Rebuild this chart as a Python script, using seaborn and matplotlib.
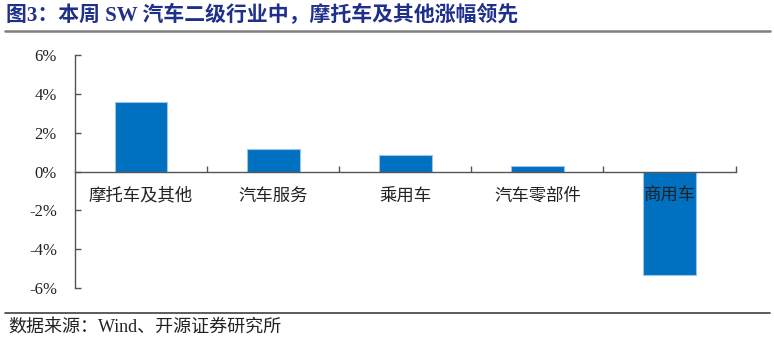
import matplotlib
matplotlib.use("Agg")
import matplotlib.pyplot as plt
from matplotlib.lines import Line2D
import seaborn as sns
import pandas as pd

categories = ["摩托车及其他", "汽车服务", "乘用车", "汽车零部件", "商用车"]
values = [3.58, 1.15, 0.83, 0.29, -5.33]
yticks = [-6, -4, -2, 0, 2, 4, 6]
ytick_labels = ["-6%", "-4%", "-2%", "0%", "2%", "4%", "6%"]
title = "图3：本周 SW 汽车二级行业中，摩托车及其他涨幅领先"
source = "数据来源：Wind、开源证券研究所"

sns.set_style("white")
plt.rcParams["font.family"] = ["Liberation Serif", "Noto Sans CJK SC", "DejaVu Sans"]

W, H = 774, 343
fig = plt.figure(figsize=(W / 100, H / 100), dpi=100)
ax = fig.add_axes([75 / W, 1 - 288 / H, (735.6 - 75) / W, (288 - 55) / H])

df = pd.DataFrame({"cat": categories, "val": values})
sns.barplot(data=df, x="cat", y="val", color="#0070C0", width=0.4,
            edgecolor="#9DC3E6", linewidth=0.8, saturation=1, ax=ax)
ax.set_axisbelow(False)

ax.set_xlim(-0.5, 4.5)
ax.set_ylim(-6, 6)
ax.set_yticks(yticks)
ax.set_yticklabels(ytick_labels, fontsize=12, color="#222222")
ax.set_xlabel("")
ax.set_ylabel("")

for s in ["top", "right"]:
    ax.spines[s].set_visible(False)
ax.spines["bottom"].set_position(("data", 0))
for s in ["left", "bottom"]:
    ax.spines[s].set_color("#555555")
    ax.spines[s].set_linewidth(1.0)

ax.tick_params(axis="y", direction="in", length=4, width=1, color="#555555", pad=13, left=True)
ax.set_xticks(range(len(categories)))
ax.set_xticklabels(categories, fontsize=12.5, color="#222222",
                   family=["Noto Sans CJK SC", "DejaVu Sans"])
ax.tick_params(axis="x", which="major", length=0, pad=11, bottom=True)
ax.set_xticks([0.5, 1.5, 2.5, 3.5, 4.5], minor=True)
ax.tick_params(axis="x", which="minor", direction="in", length=4, width=1, color="#555555", bottom=True)

# title and footer
fig.text(6 / W, 1 - 16 / H, title, fontsize=15, fontweight="bold", color="#1F2F8C",
         va="center", ha="left", family=["Liberation Serif", "Noto Sans CJK SC"])
fig.add_artist(Line2D([5 / W, 770 / W], [1 - 31 / H, 1 - 31 / H], color="#7F7F7F", lw=1.8))
fig.add_artist(Line2D([5 / W, 770 / W], [1 - 312.5 / H, 1 - 312.5 / H], color="#404040", lw=1.2))
fig.text(8 / W, 1 - 327 / H, source, fontsize=13, color="#222222", va="center", ha="left",
         family=["Liberation Serif", "Noto Sans CJK SC"])

fig.savefig("out.png", dpi=100)
